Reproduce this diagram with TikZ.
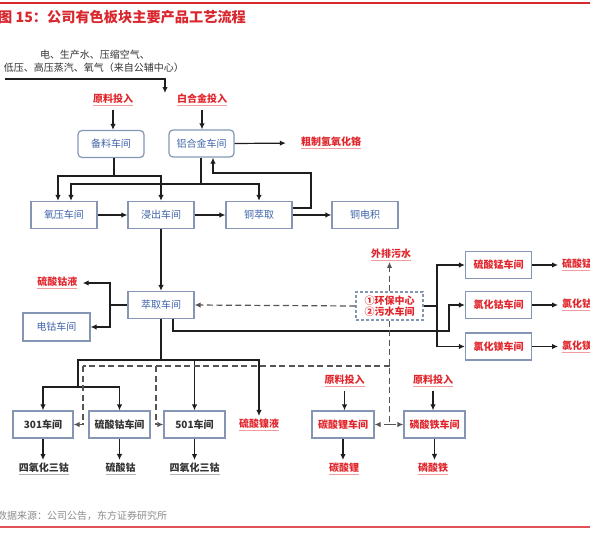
\documentclass[tikz,border=0pt]{standalone}
\usepackage{fontspec}
\setmainfont{Noto Sans CJK SC}
\usetikzlibrary{arrows.meta}
\definecolor{boxc}{HTML}{8496B4}
\definecolor{blueT}{HTML}{3F63A8}
\definecolor{redT}{HTML}{E0262C}
\definecolor{darkT}{HTML}{333333}
\definecolor{lineC}{HTML}{1E1E1E}
\definecolor{dashC}{HTML}{555555}
\definecolor{grayT}{HTML}{8C8C8C}
\definecolor{titleR}{HTML}{D9272E}
\newcommand\myulred[1]{\textcolor{redT!45}{\underline{\textcolor{redT}{#1}}}}
\newcommand\myulblk[1]{\textcolor{gray!60}{\underline{\textcolor{darkT}{#1}}}}
\tikzset{
  box/.style={draw=boxc, line width=1.2pt, minimum width=66pt, minimum height=27pt, inner sep=0pt, font=\fontsize{10}{12}\selectfont, text=blueT},
  rbox/.style={box, rounded corners=4pt},
  dbox/.style={box, text=darkT, font=\fontsize{10}{12}\selectfont\bfseries},
  redbox/.style={box, text=redT, font=\fontsize{10}{12}\selectfont\bfseries},
  lbl/.style={inner sep=1pt, font=\fontsize{10}{12}\selectfont\bfseries},
  plain/.style={inner sep=0pt, font=\fontsize{10}{12}\selectfont, text=darkT},
  conn/.style={draw=lineC, line width=1.2pt},
  arr/.style={conn, -{Latex[length=6pt,width=5.5pt]}},
  dsh/.style={draw=dashC, line width=1.2pt, dash pattern=on 6pt off 3.5pt},
  darr/.style={dsh, -{Latex[length=6pt,width=5.5pt]}}
}
\begin{document}
\begin{tikzpicture}[x=1pt,y=-1pt]
\useasboundingbox (0,0) rectangle (590,538);
% frame lines
\coordinate (tl0) at (0,3); \coordinate (tr0) at (590,3);
\draw[titleR, line width=1.2pt] (tl0) -- (tr0);
\coordinate (bl0) at (0,527); \coordinate (br0) at (590,527);
\draw[titleR!80, line width=1.2pt] (bl0) -- (br0);
\node[anchor=west, inner sep=0pt, text=titleR, font=\fontsize{14.2}{16}\selectfont\bfseries] (title) at (-2,17) {图 15：公司有色板块主要产品工艺流程};
\node[anchor=west, inner sep=0pt, text=grayT, font=\fontsize{10}{12}\selectfont] (src) at (-3,516) {数据来源：公司公告，东方证券研究所};

% utilities
\node[plain] (u1) at (95,55) {电、生产水、压缩空气、};
\node[plain] (u2) at (94,68) {低压、高压蒸汽、氧气（来自公辅中心）};
\coordinate (ua) at (5,79); \coordinate (ub) at (165,79); \coordinate (uc) at (165,93);
\draw[arr] (ua) -- (ub) -- (uc);

% top row
\node[lbl] (in1) at (113,100) {\myulred{原料投入}};
\node[lbl] (in2) at (202,100) {\myulred{白合金投入}};
\node[rbox] (bl) at (111,144) {备料车间};
\node[rbox, minimum width=65pt] (lh) at (201.5,143.5) {铝合金车间};
\node[lbl] (cz) at (331,143) {\myulred{粗制氢氧化铬}};
\draw[arr, shorten <=3pt] (in1.south) -- (in1.south |- bl.north);
\draw[arr, shorten <=3pt] (in2.south) -- (in2.south |- lh.north);
\draw[arr, shorten >=14pt] (lh.east) -- (cz.west);

% second row
\node[box] (yy) at (64,215) {氧压车间};
\node[box] (jc) at (161,215) {浸出车间};
\node[box] (tc) at (259,215) {铜萃取};
\node[box] (td) at (365,215) {铜电积};
\coordinate (jb) at (114,176);
\draw[conn] (bl.south -| jb) -- (jb);
\draw[arr] (jb) -| ([xshift=-6pt]yy.north);
\draw[arr] (jb) -| (jc.north);
\coordinate (jl) at (201,184);
\draw[conn] (lh.south -| jl) -- (jl);
\draw[arr] (jl) -| ([xshift=7pt]yy.north);
\draw[arr] (jl) -| (tc.north);
\coordinate (fb) at (311,173);
\draw[arr] ([yshift=7pt]tc.east) -| (fb) -| ([xshift=11.5pt]lh.south);
\draw[arr] (yy.east) -- (jc.west);
\draw[arr] (jc.east) -- (tc.west);
\draw[arr] (tc.east) -- (td.west);

% extraction
\node[box] (cq) at (161,305) {萃取车间};
\draw[arr] (jc.south) -- (cq.north);
\node[lbl] (slgy) at (57.5,283) {\myulred{硫酸钴液}};
\node[box, minimum width=67pt, minimum height=28pt] (dg) at (56.5,327) {电钴车间};
\coordinate (ca) at (110,305);
\draw[conn] (cq.west) -- (ca);
\draw[arr, shorten >=4pt] (ca) |- (slgy.east);
\draw[arr] (ca) |- (dg.east);

% environment centre
\node[box, dashed, dash pattern=on 3pt off 2pt, minimum width=67pt, minimum height=28pt, text=redT, align=center, font=\fontsize{10}{12}\selectfont\bfseries] (hb) at (389.5,306) {①环保中心\\[-1pt]②污水车间};
\node[lbl] (wp) at (391,255) {\myulred{外排污水}};
\draw[darr] (hb.north) -- (hb.north |- wp.south);
\draw[darr] (hb.west) -- (cq.east);

% right column
\node[redbox] (sm) at (498.5,265) {硫酸锰车间};
\node[redbox] (lg) at (498.5,305) {氯化钴车间};
\node[redbox] (lm) at (498.5,346.5) {氯化镁车间};
\coordinate (hr) at (437,306);
\draw[conn] (hb.east) -- (hr);
\draw[arr] (hr) |- (sm.west);
\draw[arr] (hr) |- (lm.west);
\coordinate (cr) at (449,331);
\draw[arr] ([xshift=12pt]cq.south) |- (cr) |- (lg.west);
\node[lbl, anchor=west] (o_sm) at (561,265) {\myulred{硫酸锰}};
\node[lbl, anchor=west] (o_lg) at (561,305) {\myulred{氯化钴}};
\node[lbl, anchor=west] (o_lm) at (561,346.5) {\myulred{氯化镁}};
\draw[arr, shorten >=3pt] (sm.east) -- (o_sm.west);
\draw[arr, shorten >=3pt] (lg.east) -- (o_lg.west);
\draw[arr, shorten >=3pt] (lm.east) -- (o_lm.west);

% bottom row
\node[dbox, minimum width=60pt] (s301) at (43,424.5) {301车间};
\node[dbox, minimum width=61pt] (sg) at (119.5,424.5) {硫酸钴车间};
\node[dbox, minimum width=61pt] (s501) at (194.5,424.5) {501车间};
\node[lbl] (snl) at (259,425) {\myulred{硫酸镍液}};
\coordinate (cb) at (161,360);
\coordinate (cb2) at (78,360);
\coordinate (cb3) at (78,387);
\draw[conn] (cq.south) -- (cb);
\draw[arr, shorten >=2pt] (cb) -| (snl.north);
\draw[arr] (cb) -| (s501.north);
\draw[conn] (cb) -- (cb2) -- (cb3);
\draw[arr] (cb3) -| (s301.north);
\draw[arr] (cb3) -| (sg.north);
\node[lbl] (o1) at (44,469) {\myulblk{四氧化三钴}};
\node[lbl] (o2) at (120.5,469) {\myulblk{硫酸钴}};
\node[lbl] (o3) at (194.5,469) {\myulblk{四氧化三钴}};
\draw[arr, shorten >=2pt] (s301.south) -- (s301.south |- o1.north);
\draw[arr, shorten >=2pt] (sg.south) -- (sg.south |- o2.north);
\draw[arr, shorten >=2pt] (s501.south) -- (s501.south |- o3.north);

% lithium / iron
\node[lbl] (in3) at (344.5,381) {\myulred{原料投入}};
\node[lbl] (in4) at (433,381) {\myulred{原料投入}};
\node[redbox, minimum width=62pt] (tl) at (343,424.5) {碳酸锂车间};
\node[redbox, minimum width=61pt] (lt) at (434.5,424.5) {磷酸铁车间};
\node[lbl] (o4) at (344,469) {\myulred{碳酸锂}};
\node[lbl] (o5) at (433,469) {\myulred{磷酸铁}};
\draw[arr, shorten <=3pt] (in3.south) -- (in3.south |- tl.north);
\draw[arr, shorten <=3pt] (in4.south) -- (in4.south |- lt.north);
\draw[arr, shorten >=2pt] (tl.south) -- (tl.south |- o4.north);
\draw[arr, shorten >=2pt] (lt.south) -- (lt.south |- o5.north);

% dashed distribution
\coordinate (d0) at (389.5,366);
\coordinate (d1) at (83,366);
\coordinate (d2) at (156,366);
\coordinate (d3) at (389.5,424.5);
\draw[dsh] (hb.south) -- (d3);
\draw[darr] (d3) -- (tl.east);
\draw[darr] (d3) -- (lt.west);
\draw[dsh] (d0) -- (d1);
\draw[darr] (d1) |- (s301.east);
\draw[darr] (d2) |- (s501.west);
\end{tikzpicture}
\end{document}
